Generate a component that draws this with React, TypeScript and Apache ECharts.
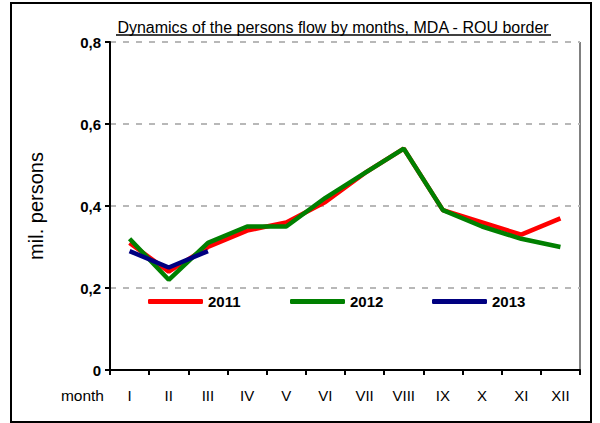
import React, { useEffect, useRef } from "react";
import * as echarts from "echarts";

const months = ["I", "II", "III", "IV", "V", "VI", "VII", "VIII", "IX", "X", "XI", "XII"];
const s2011 = [0.31, 0.24, 0.30, 0.34, 0.36, 0.41, 0.48, 0.54, 0.39, 0.36, 0.33, 0.37];
const s2012 = [0.32, 0.22, 0.31, 0.35, 0.35, 0.42, 0.48, 0.54, 0.39, 0.35, 0.32, 0.30];
const s2013 = [0.29, 0.25, 0.29];

const FONT = "Arial, 'Liberation Sans', sans-serif";

export default function App() {
  const ref = useRef<HTMLDivElement>(null);
  useEffect(() => {
    const chart = echarts.init(ref.current!, null, { renderer: "svg" });
    const legendBase = {
      top: 289,
      itemWidth: 55,
      itemHeight: 5,
      icon: "roundRect",
      textStyle: { fontFamily: FONT, fontSize: 15, fontWeight: "bold", color: "#000" },
    };
    chart.setOption({
      animation: false,
      backgroundColor: "#fff",
      grid: { left: 110, top: 42, right: 20, bottom: 53, containLabel: false },
      legend: [
        { ...legendBase, left: 143, data: ["2011"] },
        { ...legendBase, left: 285, data: ["2012"] },
        { ...legendBase, left: 427, data: ["2013"] },
      ],
      xAxis: {
        type: "category",
        data: months,
        boundaryGap: true,
        axisLine: { lineStyle: { color: "#000", width: 2 } },
        axisTick: { show: true, length: 5, inside: false, lineStyle: { color: "#000", width: 2 } },
        axisLabel: { fontFamily: FONT, fontSize: 15, color: "#000", margin: 18 },
      },
      yAxis: {
        type: "value",
        min: 0,
        max: 0.8,
        interval: 0.2,
        name: "mil. persons",
        nameLocation: "middle",
        nameRotate: 90,
        nameGap: 64,
        nameTextStyle: { fontFamily: FONT, fontSize: 20, color: "#000" },
        axisLine: { show: true, lineStyle: { color: "#000", width: 2 } },
        axisTick: { show: true, length: 5, lineStyle: { color: "#000", width: 2 } },
        axisLabel: {
          fontFamily: FONT,
          fontSize: 15,
          fontWeight: "bold",
          color: "#000",
          margin: 9,
          formatter: (v: number) => (v === 0 ? "0" : v.toFixed(1).replace(".", ",")),
        },
        splitLine: { show: true, lineStyle: { color: "#b8b8b8", width: 2, type: [6, 7] } },
      },
      series: [
        { name: "2011", type: "line", data: s2011, color: "#ff0000", symbol: "none", lineStyle: { width: 4.5, color: "#ff0000" }, z: 2 },
        { name: "2012", type: "line", data: s2012, color: "#008000", symbol: "none", lineStyle: { width: 4.5, color: "#008000" }, z: 3 },
        { name: "2013", type: "line", data: s2013, color: "#000080", symbol: "none", lineStyle: { width: 4.5, color: "#000080" }, z: 4 },
      ],
      graphic: [
        { type: "rect", shape: { x: 11, y: 3, width: 580, height: 419 }, style: { fill: "none", stroke: "#000", lineWidth: 2 }, z: 0 },
        { type: "line", shape: { x1: 580, y1: 42, x2: 580, y2: 370 }, style: { stroke: "#808080", lineWidth: 2 } },
        {
          type: "text",
          x: 333,
          y: 27,
          style: { text: "Dynamics of the persons flow by months, MDA - ROU border", fontFamily: FONT, fontSize: 16, fill: "#000", align: "center", verticalAlign: "middle" },
        },
        { type: "line", shape: { x1: 116, y1: 35, x2: 551, y2: 35 }, style: { stroke: "#000", lineWidth: 1.5 } },
        {
          type: "text",
          x: 104,
          y: 395,
          style: { text: "month", fontFamily: FONT, fontSize: 15.5, fill: "#000", align: "right", verticalAlign: "middle" },
        },
      ],
    });
    return () => chart.dispose();
  }, []);
  return <div ref={ref} style={{ position: "fixed", left: 0, top: 0, width: 600, height: 423 }} />;
}
